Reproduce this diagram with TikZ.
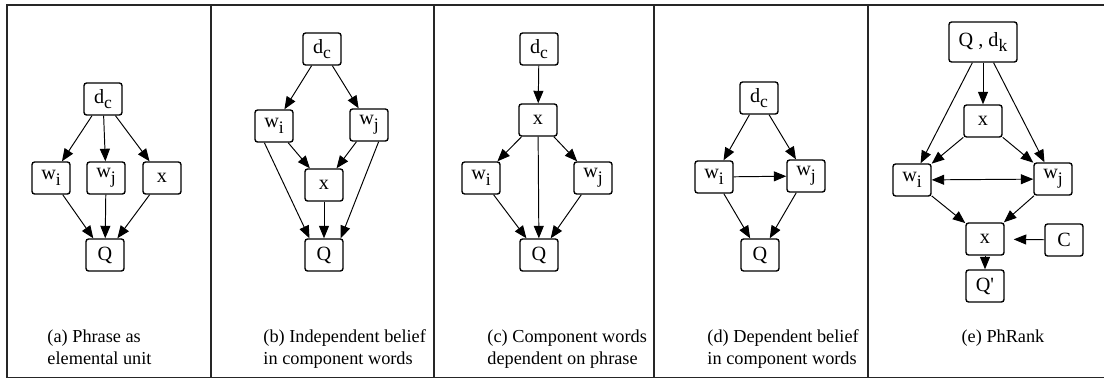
\documentclass[tikz,border=0pt]{standalone}
\usepackage{fontspec}
\setmainfont{Liberation Serif}
\usetikzlibrary{arrows.meta}
\newcommand{\lowsub}[1]{\raisebox{-0.6ex}{\fontsize{10}{10}\selectfont #1}}

\begin{document}
\begin{tikzpicture}[
  >={Triangle[length=2.5mm,width=2mm]},
  var/.style={draw,rounded corners=1.5pt,line width=0.8pt,minimum width=0.76cm,
    minimum height=0.64cm,inner sep=1pt,font=\fontsize{11.5}{12}\selectfont},
  bigvar/.style={var,minimum width=1.36cm,minimum height=0.8cm},
  caption/.style={anchor=base west,align=left,inner sep=0pt,
    font=\fontsize{10.4}{12.5}\selectfont},
  frame/.style={line width=0.8pt,black!85},
  every path/.style={line width=0.55pt}]
\useasboundingbox (0,0) rectangle (22.08,7.58);
\draw[frame] (22.1,7.48) -- (0.14,7.48) -- (0.14,0.03) -- (22.1,0.03);
\draw[frame] (4.22,7.48) -- (4.22,0.03);
\draw[frame] (8.68,7.48) -- (8.68,0.03);
\draw[frame] (13.08,7.48) -- (13.08,0.03);
\draw[frame] (17.36,7.48) -- (17.36,0.03);
% (a)
\node[var] (adc) at (2.06,5.60) {d\lowsub{c}};
\node[var] (awi) at (1.02,4.02) {w\lowsub{i}};
\node[var] (awj) at (2.12,4.02) {w\lowsub{j}};
\node[var] (ax) at (3.24,4.02) {x};
\node[var] (aq) at (2.10,2.48) {Q};
\node[caption] (acap) at (0.94,0.29) {(a) Phrase as\\elemental unit};
\draw[->] (adc) -- (awi);
\draw[->] (adc) -- (awj);
\draw[->] (adc) -- (ax);
\draw[->] (awi) -- (aq);
\draw[->] (awj) -- (aq);
\draw[->] (ax) -- (aq);
% (b)
\node[var] (bdc) at (6.44,6.60) {d\lowsub{c}};
\node[var] (bwi) at (5.48,5.06) {w\lowsub{i}};
\node[var] (bwj) at (7.38,5.08) {w\lowsub{j}};
\node[var] (bx) at (6.48,3.88) {x};
\node[var] (bq) at (6.48,2.48) {Q};
\node[caption] (bcap) at (5.26,0.29) {(b) Independent belief\\in component words};
\draw[->] (bdc) -- (bwi);
\draw[->] (bdc) -- (bwj);
\draw[->] (bwi) -- (bx);
\draw[->] (bwj) -- (bx);
\draw[->] (bwi.240) -- (bq.131);
\draw[->] (bwj.300) -- (bq.45);
\draw[->] (bx) -- (bq);
% (c)
\node[var] (cdc) at (10.78,6.60) {d\lowsub{c}};
\node[var] (cx) at (10.76,5.18) {x};
\node[var] (cwi) at (9.62,4.02) {w\lowsub{i}};
\node[var] (cwj) at (11.86,4.02) {w\lowsub{j}};
\node[var] (cq) at (10.78,2.48) {Q};
\node[caption] (ccap) at (9.74,0.29) {(c) Component words\\dependent on phrase};
\draw[->] (cdc) -- (cx);
\draw[->] (cx) -- (cwi);
\draw[->] (cx) -- (cwj);
\draw[->] (cx) -- (cq);
\draw[->] (cwi) -- (cq);
\draw[->] (cwj) -- (cq);
% (d)
\node[var] (ddc) at (15.18,5.62) {d\lowsub{c}};
\node[var] (dwi) at (14.28,4.04) {w\lowsub{i}};
\node[var] (dwj) at (16.12,4.06) {w\lowsub{j}};
\node[var] (dq) at (15.20,2.48) {Q};
\node[caption] (dcap) at (14.14,0.29) {(d) Dependent belief\\in component words};
\draw[->] (ddc) -- (dwi);
\draw[->] (ddc) -- (dwj);
\draw[->] (dwi) -- (dwj);
\draw[->] (dwi) -- (dq);
\draw[->] (dwj) -- (dq);
% (e)
\node[bigvar] (eqd) at (19.66,6.74) {Q , d\lowsub{k}};
\node[var] (ex) at (19.66,5.16) {x};
\node[var] (ewi) at (18.24,3.98) {w\lowsub{i}};
\node[var] (ewj) at (21.06,4.00) {w\lowsub{j}};
\node[var] (ey) at (19.70,2.80) {x};
\node[var] (ec) at (21.28,2.78) {C};
\node[var] (eq) at (19.70,1.86) {Q\textquotesingle};
\node[caption,anchor=base] (ecap) at (20.06,0.73) {(e) PhRank};
\draw[->] (eqd) -- (ex);
\draw[->] (eqd) -- (ewi);
\draw[->] (eqd) -- (ewj);
\draw[->] (ex) -- (ewi);
\draw[->] (ex) -- (ewj);
\draw[<->] (ewi) -- (ewj);
\draw[->] (ewi) -- (ey);
\draw[->] (ewj) -- (ey);
\draw[->,shorten >=0.18cm] (ec) -- (ey);
\draw[->] (ey) -- (eq);
\end{tikzpicture}
\end{document}
